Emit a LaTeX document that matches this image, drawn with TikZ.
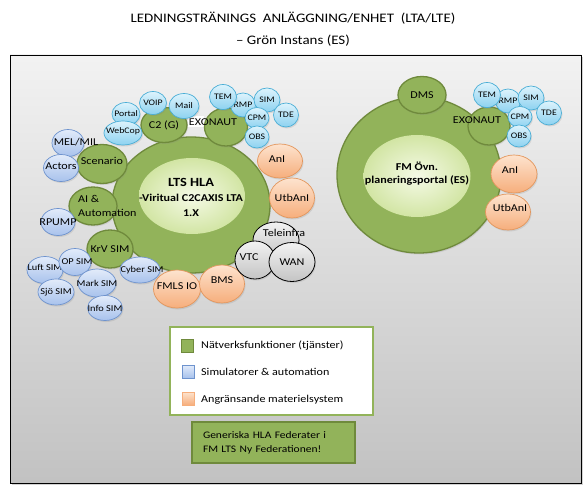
\documentclass[tikz,border=0pt]{standalone}
\usepackage{fontspec}
\setmainfont{Carlito}[FakeStretch=1.15]
\usetikzlibrary{shapes.geometric,shadows}

\definecolor{netgreen}{HTML}{92B35A}
\definecolor{netline}{HTML}{6F8A3C}
\definecolor{corein}{HTML}{F5FAE6}
\definecolor{coreout}{HTML}{D2E5A4}
\definecolor{simtop}{HTML}{E2EBFA}
\definecolor{simbot}{HTML}{A8C2EC}
\definecolor{simline}{HTML}{6E93CE}
\definecolor{svctop}{HTML}{DDF3FC}
\definecolor{svcbot}{HTML}{8DD2F0}
\definecolor{svcline}{HTML}{4AAED6}
\definecolor{mattop}{HTML}{FDE3CE}
\definecolor{matbot}{HTML}{F6AE7C}
\definecolor{matline}{HTML}{E3965C}
\definecolor{teltop}{HTML}{F2F2F2}
\definecolor{telbot}{HTML}{C4C4C4}

\begin{document}
\begin{tikzpicture}[x=1pt, y=-1pt,
    panel/.style={draw=black, line width=0.8pt, top color=black!5, bottom color=black!24, drop shadow={opacity=0.35, shadow xshift=2pt, shadow yshift=-2pt}},
    soft/.style={drop shadow={opacity=0.2, shadow xshift=1pt, shadow yshift=-1.5pt}},
    netball/.style={ellipse, draw=netline, line width=1.3pt, fill=netgreen, inner sep=0pt, soft},
    simball/.style={ellipse, draw=simline, line width=0.7pt, top color=simtop, bottom color=simbot, inner sep=0pt, soft},
    svcball/.style={ellipse, draw=svcline, line width=0.7pt, top color=svctop, bottom color=svcbot, inner sep=0pt, soft},
    matball/.style={ellipse, draw=matline, line width=0.7pt, top color=mattop, bottom color=matbot, inner sep=0pt, soft},
    telball/.style={ellipse, draw=black, line width=0.8pt, top color=teltop, bottom color=telbot, inner sep=0pt, soft},
    coreball/.style={ellipse, inner sep=0pt, inner color=corein, outer color=coreout},
    sz/.style 2 args={minimum width=#1pt, minimum height=#2pt},
    lab/.style 2 args={label={[#1]center:#2}},
    netlab/.style={inner sep=0pt, font=\fontsize{10.5}{12}\selectfont},
    simlab/.style={inner sep=0pt, font=\fontsize{9}{10}\selectfont},
    svclab/.style={inner sep=0pt, font=\fontsize{8.5}{10}\selectfont},
    coretext/.style={align=center, inner sep=0pt, font=\bfseries\fontsize{10.5}{15}\selectfont},
    title/.style={align=center, font=\fontsize{13}{22}\selectfont},
    keysq/.style={minimum width=12pt, minimum height=13pt, inner sep=0pt, line width=0.7pt},
    legtext/.style={anchor=west, inner sep=0pt, font=\fontsize{10.5}{12}\selectfont},
]
\useasboundingbox (0,0) rectangle (586,489);

% Frame and title
\node[panel, minimum width=571pt, minimum height=428pt] (panel) at (295.5,269) {};
\node[title] (title) at (293,29) {LEDNINGSTRÄNINGS\ \ ANLÄGGNING/ENHET\ \ (LTA/LTE)\\– Grön Instans (ES)};

% LTS HLA federation
\node[netball, sz={158}{136}] (lts_ring) at (191,205) {};
\node[coreball, sz={106}{76}] (lts_core) at (192,196) {};
\node[coretext] (lts_text) at (191,197) {{\fontsize{12.5}{15}\selectfont LTS HLA}\\-Viritual C2CAXIS LTA\\1.X};

% Network functions
\node[netball, sz={46}{35}, lab={netlab}{C2 (G)}] (c2) at (164,125) {};
\node[fill=white, inner sep=0pt, minimum width=16pt, minimum height=11pt] (exonaut_patch) at (196,122) {};
\node[netball, sz={43}{38}, lab={netlab, xshift=-13pt, yshift=5pt}{EXONAUT}] (exonaut_l) at (226,127) {};
\node[netball, sz={50}{39}, lab={netlab, yshift=3pt}{Scenario}] (scenario) at (102,164) {};
\node[netball, sz={48}{38}] (ai_auto) at (93,206) {};
\node[netlab, align=left, anchor=west, font=\fontsize{10.5}{14}\selectfont] (ai_text) at (78,206) {AI \&\\Automation};
\node[netball, sz={46}{38}, lab={netlab}{KrV SIM}] (krv_sim) at (110,249) {};

% Simulators
\node[simball, sz={32}{27}, lab={netlab, xshift=8pt, yshift=1pt}{MEL/MIL}] (mel_mil) at (68,143) {};
\node[simball, sz={35}{27}, lab={netlab, yshift=2pt}{Actors}] (actors) at (61,168) {};
\node[simball, sz={34}{27}, lab={netlab}{RPUMP}] (rpump) at (58,222) {};
\node[simball, sz={36}{27}, lab={simlab, yshift=3pt}{Luft SIM}] (luft_sim) at (45,270) {};
\node[simball, sz={32}{27}, lab={simlab, xshift=2pt}{OP SIM}] (op_sim) at (75,262) {};
\node[simball, sz={36}{26}, lab={simlab}{Sjö SIM}] (sjo_sim) at (56,292) {};
\node[simball, sz={38}{28}, lab={simlab}{Mark SIM}] (mark_sim) at (97,283) {};
\node[simball, sz={35}{25}, lab={simlab}{Info SIM}] (info_sim) at (105,308) {};
\node[simball, sz={40}{26}, lab={simlab, xshift=2pt}{Cyber SIM}] (cyber_sim) at (140,270) {};

% Services
\node[svcball, sz={28}{23}, lab={svclab}{Portal}] (portal) at (126,114) {};
\node[svcball, sz={38}{24}, lab={svclab, yshift=2pt}{WebCop}] (webcop) at (123,133) {};
\node[svcball, sz={27}{23}, lab={svclab}{VOIP}] (voip) at (153,103) {};
\node[svcball, sz={30}{25}, lab={svclab}{Mail}] (mail) at (184,106) {};
\node[svcball, sz={25}{24}, lab={svclab}{RMP}] (rmp_l) at (243,105) {};
\node[svcball, sz={27}{25}, lab={svclab}{TEM}] (tem_l) at (223,97) {};
\node[svcball, sz={26}{24}, lab={svclab}{SIM}] (sim_l) at (267,100) {};
\node[svcball, sz={24}{21}, lab={svclab}{CPM}] (cpm_l) at (257,118) {};
\node[svcball, sz={24}{22}, lab={svclab}{OBS}] (obs_l) at (257,137) {};
\node[svcball, sz={25}{24}, lab={svclab}{TDE}] (tde_l) at (286,115) {};

% Adjacent systems
\node[matball, sz={45}{34}, lab={netlab, xshift=-3pt, yshift=2pt}{AnI}] (anl_l) at (280,161) {};
\node[matball, sz={45}{40}, lab={netlab}{UtbAnI}] (utbanl_l) at (292,198) {};
\node[matball, sz={47}{38}, lab={netlab, yshift=3pt}{FMLS IO}] (fmls_io) at (177,289) {};
\node[matball, sz={45}{38}, lab={netlab, yshift=4pt}{BMS}] (bms) at (222,284) {};
\node[telball, sz={46}{36}, lab={netlab, xshift=8pt, yshift=7pt}{Teleinfra}] (teleinfra) at (276,240) {};
\node[telball, sz={40}{38}, lab={netlab, xshift=-6pt, yshift=3pt}{VTC}] (vtc) at (255,260) {};
\node[telball, sz={46}{39}, lab={netlab}{WAN}] (wan) at (292,262) {};

% FM exercise planning portal
\node[netball, sz={164}{156}] (fm_ring) at (419,175) {};
\node[coreball, sz={107}{82}] (fm_core) at (417,176) {};
\node[coretext, font=\bfseries\fontsize{10.5}{13}\selectfont] (fm_text) at (417,173.5) {FM Övn.\\planeringsportal (ES)};
\node[netball, sz={48}{37}, lab={netlab}{DMS}] (dms) at (422,95) {};
\node[netball, sz={42}{38}, lab={netlab, xshift=-12pt, yshift=6pt}{EXONAUT}] (exonaut_r) at (489,126) {};
\node[svcball, sz={25}{24}, lab={svclab}{RMP}] (rmp_r) at (508,101) {};
\node[svcball, sz={27}{25}, lab={svclab}{TEM}] (tem_r) at (487,95) {};
\node[svcball, sz={26}{24}, lab={svclab}{SIM}] (sim_r) at (531,98) {};
\node[svcball, sz={24}{21}, lab={svclab}{CPM}] (cpm_r) at (520,117) {};
\node[svcball, sz={24}{22}, lab={svclab}{OBS}] (obs_r) at (519,136) {};
\node[svcball, sz={25}{24}, lab={svclab}{TDE}] (tde_r) at (549,113) {};
\node[matball, sz={46}{38}, lab={netlab, xshift=-4pt, yshift=4pt}{AnI}] (anl_r) at (514,174) {};
\node[matball, sz={45}{36}, lab={netlab, xshift=2pt, yshift=4pt}{UtbAnI}] (utbanl_r) at (508,212) {};

% Legend
\node[draw=netgreen, line width=2.5pt, fill=white, minimum width=203pt, minimum height=88pt] (legend) at (271.5,371) {};
\node[keysq, fill=netgreen, draw=netline, line width=1.3pt] (key_net) at (187.5,346) {};
\node[legtext] (key_net_text) at (201,346) {Nätverksfunktioner (tjänster)};
\node[keysq, top color=simtop, bottom color=simbot, draw=simline] (key_sim) at (188.5,371.5) {};
\node[legtext] (key_sim_text) at (201,372) {Simulatorer \& automation};
\node[keysq, top color=mattop, bottom color=matbot, draw=matbot] (key_mat) at (188.5,398.5) {};
\node[legtext] (key_mat_text) at (201,400) {Angränsande materielsystem};

% Note
\node[fill=netgreen, draw=netline, line width=2pt, minimum width=163pt, minimum height=41pt, text width=141pt, inner xsep=11pt, align=left, font=\fontsize{10}{14}\selectfont] (note) at (273.5,442.5) {Generiska HLA Federater i\\FM LTS Ny Federationen!};

\end{tikzpicture}
\end{document}
